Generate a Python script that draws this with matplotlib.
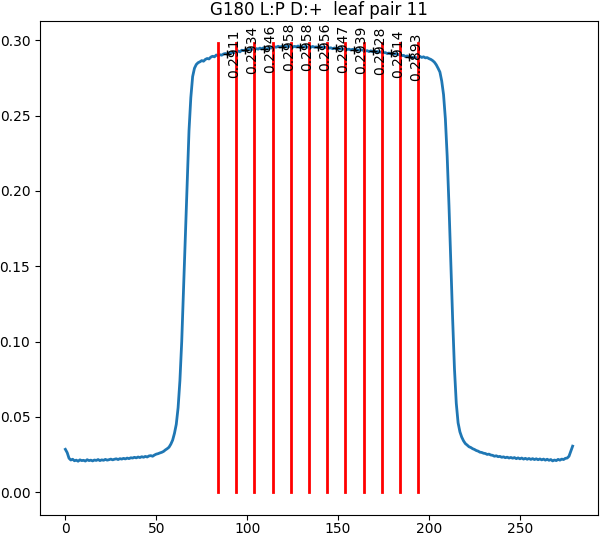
import matplotlib
matplotlib.use("Agg")
import matplotlib.pyplot as plt
import numpy as np

title = "G180 L:P D:+  leaf pair 11"

profile = [
    0.0284, 0.0262, 0.0225, 0.0213, 0.0218, 0.0208, 0.0212, 0.0205, 0.0214, 0.0209,
    0.0211, 0.0206, 0.0215, 0.0209, 0.0212, 0.0207, 0.0213, 0.0210, 0.0216, 0.0209,
    0.0214, 0.0211, 0.0217, 0.0212, 0.0215, 0.0219, 0.0214, 0.0218, 0.0221, 0.0216,
    0.0222, 0.0219, 0.0224, 0.0220, 0.0226, 0.0222, 0.0228, 0.0226, 0.0231, 0.0227,
    0.0233, 0.0229, 0.0235, 0.0231, 0.0237, 0.0233, 0.0240, 0.0242, 0.0238, 0.0246,
    0.0252, 0.0255, 0.0260, 0.0264, 0.0270, 0.0280, 0.0288, 0.0298, 0.0318, 0.0345,
    0.0390, 0.0450, 0.0560, 0.0740, 0.1000, 0.1340, 0.1700, 0.2060, 0.2400, 0.2620,
    0.2760, 0.2815, 0.2840, 0.2852, 0.2858, 0.2866, 0.2862, 0.2874, 0.2880, 0.2877,
    0.2889, 0.2895, 0.2891, 0.2903,
    # 84-93
    0.2899, 0.2905, 0.2902, 0.2910, 0.2913, 0.2909, 0.2918, 0.2915, 0.2921, 0.2918,
    # 94-103
    0.2926, 0.2930, 0.2924, 0.2935, 0.2932, 0.2938, 0.2934, 0.2941, 0.2937, 0.2943,
    # 104-113
    0.2940, 0.2946, 0.2942, 0.2949, 0.2944, 0.2951, 0.2946, 0.2943, 0.2950, 0.2949,
    # 114-123
    0.2953, 0.2957, 0.2955, 0.2961, 0.2956, 0.2960, 0.2958, 0.2962, 0.2957, 0.2961,
    # 124-133
    0.2960, 0.2955, 0.2961, 0.2957, 0.2963, 0.2954, 0.2959, 0.2956, 0.2960, 0.2955,
    # 134-143
    0.2958, 0.2954, 0.2960, 0.2955, 0.2957, 0.2953, 0.2959, 0.2956, 0.2954, 0.2954,
    # 144-153
    0.2952, 0.2949, 0.2951, 0.2945, 0.2950, 0.2944, 0.2948, 0.2943, 0.2946, 0.2942,
    # 154-163
    0.2944, 0.2940, 0.2942, 0.2937, 0.2941, 0.2936, 0.2940, 0.2935, 0.2938, 0.2937,
    # 164-173
    0.2934, 0.2930, 0.2932, 0.2926, 0.2931, 0.2925, 0.2929, 0.2924, 0.2926, 0.2923,
    # 174-183
    0.2921, 0.2918, 0.2919, 0.2913, 0.2916, 0.2911, 0.2914, 0.2909, 0.2912, 0.2907,
    # 184-193
    0.2903, 0.2899, 0.2901, 0.2893, 0.2897, 0.2889, 0.2892, 0.2885, 0.2889, 0.2882,
    # 194-
    0.2890, 0.2894, 0.2887, 0.2891, 0.2884, 0.2886, 0.2879, 0.2874, 0.2866, 0.2855,
    0.2838, 0.2815, 0.2790, 0.2730, 0.2640, 0.2480, 0.2230, 0.1900, 0.1520, 0.1150,
    0.0820, 0.0590, 0.0460, 0.0400, 0.0365, 0.0340, 0.0322, 0.0312, 0.0301, 0.0296,
    0.0288, 0.0283, 0.0276, 0.0272, 0.0265, 0.0263, 0.0258, 0.0256, 0.0250, 0.0252,
    0.0246, 0.0244, 0.0238, 0.0241, 0.0235, 0.0237, 0.0231, 0.0234, 0.0228, 0.0232,
    0.0226, 0.0230, 0.0225, 0.0229, 0.0222, 0.0227, 0.0221, 0.0226, 0.0219, 0.0224,
    0.0218, 0.0223, 0.0217, 0.0222, 0.0216, 0.0221, 0.0215, 0.0220, 0.0214, 0.0219,
    0.0212, 0.0218, 0.0211, 0.0216, 0.0207, 0.0213, 0.0209, 0.0217, 0.0212, 0.0219,
    0.0216, 0.0224, 0.0226, 0.0238, 0.0272, 0.0305,
]

line_positions = [84, 94, 104, 114, 124, 134, 144, 154, 164, 174, 184, 194]
line_top = 0.298
mid_positions = [89, 99, 109, 119, 129, 139, 149, 159, 169, 179, 189]
mid_values = [0.2911, 0.2934, 0.2946, 0.2958, 0.2958, 0.2956, 0.2947,
              0.2939, 0.2928, 0.2914, 0.2893]

fig = plt.figure(figsize=(6.0, 5.36), dpi=100)
ax = fig.add_axes([40 / 600, 1 - 514.5 / 536, 558 / 600, (514.5 - 21) / 536])

x = np.arange(len(profile))
ax.plot(x, profile, color="#1f77b4", lw=2)

for p in line_positions:
    ax.plot([p, p], [0, line_top], color="red", lw=2)

ax.plot(mid_positions, mid_values, "k+", markersize=6)
for m, v in zip(mid_positions, mid_values):
    ax.text(m, v, f"{v:.4f}", rotation=90, ha="left", va="center", fontsize=10)

ax.set_xticks([0, 50, 100, 150, 200, 250])
ax.set_yticks([0.00, 0.05, 0.10, 0.15, 0.20, 0.25, 0.30])
ax.tick_params(axis="x", pad=2)
ax.set_title(title, fontsize=12, pad=4)

fig.savefig("out.png", dpi=100)
